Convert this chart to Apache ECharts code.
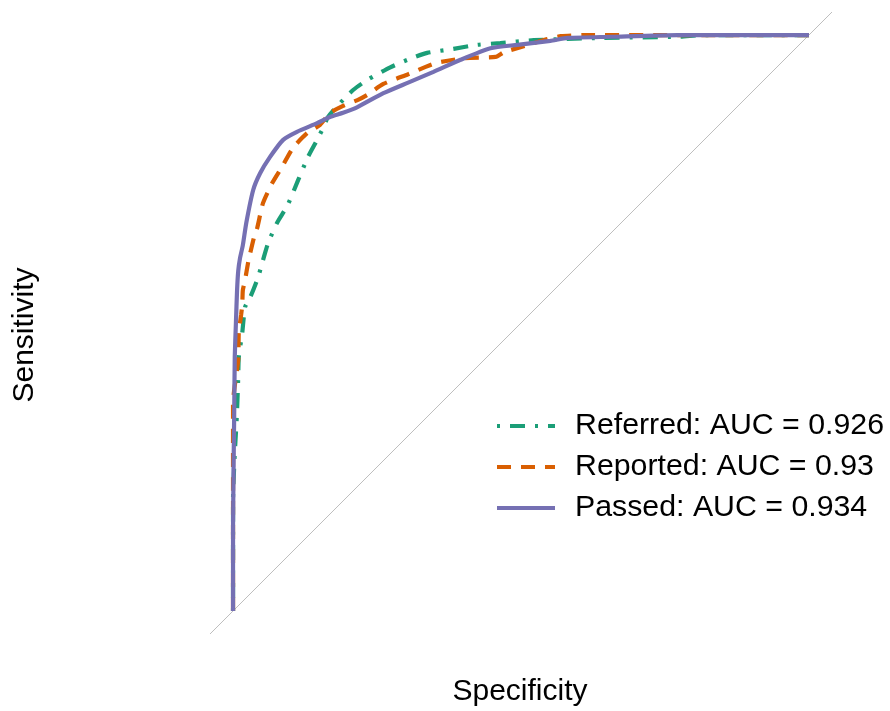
<!DOCTYPE html>
<html>
<head>
<meta charset="utf-8">
<script src="https://cdn.jsdelivr.net/npm/echarts@6/dist/echarts.min.js"></script>
<style>html,body{margin:0;padding:0;background:#fff}#c{width:890px;height:711px}</style>
</head>
<body>
<div id="c"></div>
<script>
const seriesNames = ['Referred: AUC = 0.926', 'Reported: AUC = 0.93', 'Passed: AUC = 0.934'];

const referredSpec = [1, 1, 0.997, 0.995, 0.993, 0.991, 0.990, 0.984, 0.979, 0.970, 0.957, 0.948, 0.939, 0.923, 0.906, 0.887, 0.870, 0.854, 0.843, 0.835, 0.814, 0.791, 0.767, 0.727, 0.697, 0.663, 0.617, 0.576, 0.536, 0.478, 0.362, 0.223, 0.188, 0];
const referredSens = [0, 0.193, 0.274, 0.309, 0.349, 0.406, 0.441, 0.483, 0.528, 0.545, 0.578, 0.609, 0.639, 0.675, 0.703, 0.748, 0.788, 0.818, 0.840, 0.858, 0.882, 0.905, 0.922, 0.944, 0.957, 0.969, 0.976, 0.983, 0.986, 0.991, 0.995, 0.997, 1.0, 1.0];

const reportedSpec = [1, 1, 1, 0.991, 0.990, 0.986, 0.984, 0.983, 0.979, 0.974, 0.970, 0.963, 0.958, 0.948, 0.932, 0.915, 0.896, 0.871, 0.849, 0.831, 0.809, 0.784, 0.767, 0.739, 0.696, 0.649, 0.597, 0.544, 0.530, 0.501, 0.454, 0.431, 0.384, 0];
const reportedSens = [0, 0.21, 0.361, 0.436, 0.483, 0.514, 0.531, 0.557, 0.575, 0.604, 0.622, 0.651, 0.665, 0.708, 0.743, 0.771, 0.804, 0.830, 0.844, 0.865, 0.877, 0.887, 0.896, 0.915, 0.932, 0.951, 0.960, 0.962, 0.970, 0.979, 0.993, 0.998, 1.0, 1.0];

const passedSpec = [1, 1, 0.998, 0.997, 0.995, 0.993, 0.991, 0.988, 0.983, 0.977, 0.965, 0.953, 0.936, 0.913, 0.889, 0.854, 0.831, 0.809, 0.784, 0.739, 0.697, 0.652, 0.605, 0.553, 0.506, 0.449, 0.419, 0.344, 0.228, 0];
const passedSens = [0, 0.146, 0.340, 0.441, 0.5, 0.557, 0.590, 0.612, 0.635, 0.674, 0.731, 0.760, 0.788, 0.818, 0.832, 0.847, 0.858, 0.865, 0.875, 0.899, 0.917, 0.936, 0.957, 0.977, 0.983, 0.990, 0.995, 0.997, 1.0, 1.0];

const diagSpec = [1.04, -0.04];
const diagSens = [-0.04, 1.04];

const colors = ['#1B9E77', '#D95F02', '#7570B3'];
const dashes = [[3, 10, 15, 10], [14, 10], 'solid'];

function pairs(xs, ys) { return xs.map((x, i) => [x, ys[i]]); }

const curveData = [pairs(referredSpec, referredSens), pairs(reportedSpec, reportedSens), pairs(passedSpec, passedSens)];

const chart = echarts.init(document.getElementById('c'), null, {renderer: 'canvas'});
const font = 'Liberation Sans, Arial, sans-serif';

const series = [{
  type: 'line', name: 'diag', data: pairs(diagSpec, diagSens), symbol: 'none', silent: true,
  lineStyle: {color: '#bebebe', width: 1}, z: 1
}];
seriesNames.forEach((n, i) => {
  series.push({
    type: 'line', name: n, data: curveData[i], symbol: 'none', smooth: 0.2,
    lineStyle: {color: colors[i], width: 4.2, type: dashes[i], cap: 'butt'},
    itemStyle: {color: colors[i]}, z: 2 + i
  });
});

chart.setOption({
  animation: false,
  backgroundColor: '#ffffff',
  grid: {left: 210, width: 622, top: 12, height: 622, containLabel: false},
  xAxis: {type: 'value', min: -0.04, max: 1.04, inverse: true,
    axisLine: {show: false}, axisTick: {show: false}, axisLabel: {show: false}, splitLine: {show: false}},
  yAxis: {type: 'value', min: -0.04, max: 1.04,
    axisLine: {show: false}, axisTick: {show: false}, axisLabel: {show: false}, splitLine: {show: false}},
  legend: {
    data: seriesNames, orient: 'vertical', left: 490, top: 406,
    itemWidth: 58, itemHeight: 14, itemGap: 11,
    itemStyle: {opacity: 0},
    lineStyle: {width: 4},
    textStyle: {fontFamily: font, fontSize: 30.3, color: '#000', lineHeight: 30, padding: [0, 0, 0, 15]},
    selectedMode: false
  },
  graphic: [
    {type: 'text', x: 520, y: 692, style: {text: 'Specificity', font: '30px ' + font, fill: '#000', align: 'center', verticalAlign: 'middle'}},
    {type: 'text', x: 25, y: 335, rotation: Math.PI / 2, style: {text: 'Sensitivity', font: '30px ' + font, fill: '#000', align: 'center', verticalAlign: 'middle'}}
  ],
  series: series
});
</script>
</body>
</html>
